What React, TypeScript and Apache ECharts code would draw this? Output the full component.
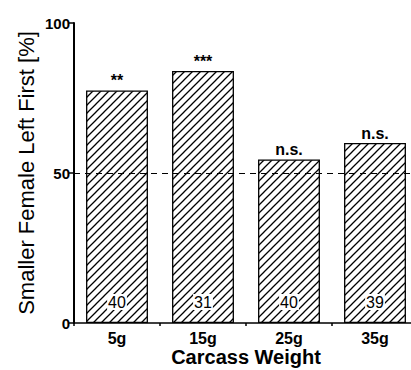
import React, { useEffect, useRef } from "react";
import * as echarts from "echarts";

const categories = ["5g", "15g", "25g", "35g"];
const values = [77.5, 84, 54.5, 60];
const significance = ["**", "***", "n.s.", "n.s."];
const sampleSizes = ["40", "31", "40", "39"];
const yTicks = [0, 50, 100];
const referenceLine = 50;

function makeHatch(): HTMLCanvasElement {
  const s = 8;
  const c = document.createElement("canvas");
  c.width = s;
  c.height = s;
  const ctx = c.getContext("2d")!;
  ctx.fillStyle = "#fff";
  ctx.fillRect(0, 0, s, s);
  ctx.strokeStyle = "#000";
  ctx.lineWidth = 1.3;
  ctx.beginPath();
  ctx.moveTo(-1, s + 1);
  ctx.lineTo(s + 1, -1);
  ctx.moveTo(-1, 1);
  ctx.lineTo(1, -1);
  ctx.moveTo(s - 1, s + 1);
  ctx.lineTo(s + 1, s - 1);
  ctx.stroke();
  return c;
}

export default function App() {
  const ref = useRef<HTMLDivElement>(null);
  useEffect(() => {
    if (!ref.current) return;
    const chart = echarts.init(ref.current, undefined, { renderer: "svg" });
    const font = "Liberation Sans, Arial, Helvetica, sans-serif";
    const hatch = makeHatch();
    chart.setOption({
      animation: false,
      backgroundColor: "#fff",
      grid: { left: 74, width: 344, top: 23, height: 300, containLabel: false, outerBoundsMode: "none" },
      xAxis: {
        type: "category",
        data: categories,
        name: "Carcass Weight",
        nameLocation: "middle",
        nameGap: 24,
        nameMoveOverlap: false,
        nameTextStyle: { fontFamily: font, fontSize: 20, fontWeight: "bold", color: "#000" },
        axisLine: { lineStyle: { color: "#000", width: 1.5 } },
        axisTick: { show: true, length: 3, lineStyle: { color: "#000", width: 1.5 } },
        axisLabel: { fontFamily: font, fontSize: 16, fontWeight: "bold", color: "#000", margin: 7 },
      },
      yAxis: {
        type: "value",
        min: yTicks[0],
        max: yTicks[yTicks.length - 1],
        interval: yTicks[1] - yTicks[0],
        name: "Smaller Female Left First [%]",
        nameLocation: "middle",
        nameGap: 37,
        nameMoveOverlap: false,
        nameTextStyle: { fontFamily: font, fontSize: 22, color: "#000" },
        splitLine: { show: false },
        axisLine: { show: true, lineStyle: { color: "#000", width: 2 } },
        axisTick: { show: true, length: 5, lineStyle: { color: "#000", width: 1.5 } },
        axisLabel: { fontFamily: font, fontSize: 15, fontWeight: "bold", color: "#000", margin: 4 },
      },
      series: [
        {
          type: "bar",
          data: values,
          barCategoryGap: "28%",
          itemStyle: {
            color: { image: hatch, repeat: "repeat" },
            borderColor: "#000",
            borderWidth: 1.3,
          },
          label: {
            show: true,
            position: "top",
            distance: 2,
            formatter: (p: any) => significance[p.dataIndex],
            fontFamily: font,
            fontSize: 16,
            fontWeight: "bold",
            color: "#000",
          },
          markLine: {
            silent: true,
            symbol: "none",
            label: { show: false },
            lineStyle: { color: "#000", width: 1, type: [6, 5] },
            data: [{ yAxis: referenceLine }],
          },
        },
        {
          type: "bar",
          data: values,
          barGap: "-100%",
          barCategoryGap: "28%",
          itemStyle: { color: "transparent" },
          label: {
            show: true,
            position: "insideBottom",
            distance: 13,
            formatter: (p: any) => sampleSizes[p.dataIndex],
            fontFamily: font,
            fontSize: 16,
            color: "#000",
            backgroundColor: "#fff",
            padding: [0, 1],
          },
          z: 3,
        },
      ],
    });
    return () => chart.dispose();
  }, []);
  return <div ref={ref} style={{ width: 411, height: 370, position: "absolute", left: 0, top: 0 }} />;
}
